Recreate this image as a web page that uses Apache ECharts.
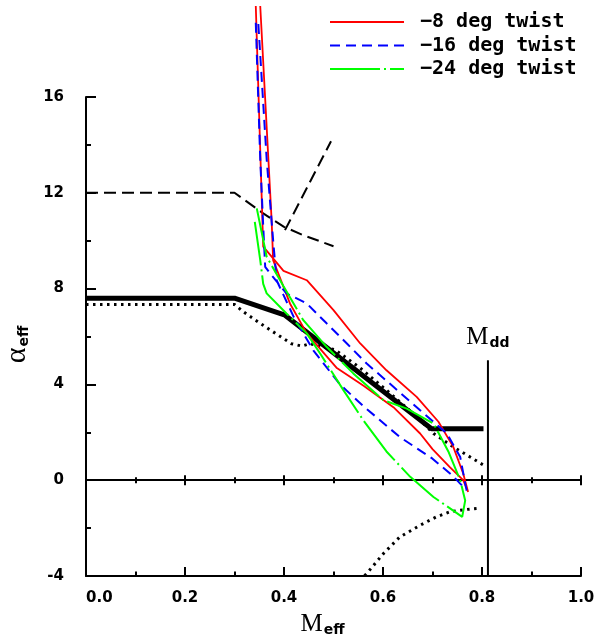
<!DOCTYPE html>
<html><head><meta charset="utf-8">
<script src="https://cdn.jsdelivr.net/npm/echarts@6/dist/echarts.min.js"></script>
<style>html,body{margin:0;padding:0;background:#fff}#c{width:606px;height:641px}</style>
</head><body><div id="c"></div>
<script>
// ---- data (x = M_eff, y = alpha_eff) ----
const seriesNames = ['\u22128 deg twist', '\u221216 deg twist', '\u221224 deg twist'];

const twist8 = [
  [0.343,19.8],[0.358,9.75],[0.378,9.26],[0.399,8.74],[0.446,8.35],[0.50,7.10],[0.554,5.71],
  [0.607,4.59],[0.668,3.48],[0.712,2.44],[0.742,1.39],[0.762,0.28],[0.772,-0.49],
  [0.762,0.0],[0.735,0.55],[0.70,1.3],[0.675,1.95],[0.621,3.05],[0.56,3.95],[0.506,4.7],
  [0.446,6.13],[0.412,7.38],[0.378,9.19],[0.375,10.86],[0.352,19.8]
];
const twist16 = [
  [0.343,19.1],[0.352,13.4],[0.358,10.6],[0.362,8.91],[0.372,8.63],[0.405,7.80],[0.446,7.38],
  [0.486,6.55],[0.527,5.71],[0.567,4.87],[0.621,3.90],[0.675,2.92],[0.729,1.95],[0.756,0.97],
  [0.766,-0.14],[0.769,-0.42],
  [0.74,0.2],[0.70,0.9],[0.634,1.8],[0.56,3.1],[0.513,4.0],[0.46,5.4],[0.42,6.8],[0.385,8.35],
  [0.378,10.03],[0.365,13.4],[0.348,19.1]
];
const twist24 = [
  [0.345,11.35],[0.365,9.33],[0.399,8.1],[0.439,6.68],[0.486,5.57],[0.54,4.46],[0.601,3.34],
  [0.648,2.99],[0.702,2.37],[0.732,1.2],[0.756,0.0],[0.766,-0.85],[0.760,-1.53],
  [0.702,-0.70],[0.655,0.14],[0.607,1.2],[0.56,2.51],[0.52,3.76],[0.473,5.29],[0.446,6.13],
  [0.405,6.96],[0.365,7.80],[0.358,8.2],[0.352,9.19],[0.341,10.79]
];
const thickSolid = [[0,7.6],[0.30,7.6],[0.402,6.89],[0.698,2.15],[0.803,2.15]];
const dottedUpper = [
  [0,7.34],[0.30,7.34],[0.318,7.03],[0.352,6.55],[0.385,6.10],[0.415,5.70],[0.436,5.60],
  [0.452,5.70],[0.503,5.45],[0.553,4.7],[0.607,3.76],[0.668,2.65],[0.702,1.95],[0.742,1.39],
  [0.776,0.97],[0.803,0.63]
];
const dottedLower = [
  [0.789,-1.18],[0.769,-1.22],[0.735,-1.32],[0.708,-1.53],[0.675,-1.88],[0.634,-2.37],
  [0.601,-3.06],[0.567,-3.9],[0.562,-4.0]
];
const dashedMain = [[0,12],[0.30,12],[0.325,11.63],[0.358,11.14],[0.40,10.58],[0.439,10.23],[0.50,9.77]];
const dashedBranch = [[0.402,10.44],[0.495,14.15]];
const mddX = 0.812;
const mddRange = [-4, 5];

const xMin = 0, xMax = 1, xStep = 0.2;
const yMin = -4, yMax = 16, yStep = 4;

// ---- chart ----
const chart = echarts.init(document.getElementById('c'), null, {renderer: 'canvas'});
const black = '#000';
const labelFont = {fontFamily: 'DejaVu Sans', fontWeight: 'bold', fontSize: 15, color: black};
const xBase = {type: 'value', min: xMin, max: xMax, interval: xStep, splitLine: {show: false}};

function ln(name, data, color, width, type, z) {
  return {type: 'line', name: name, data: data, symbol: 'none', clip: false, silent: true,
    itemStyle: {color: color, opacity: 0},
    lineStyle: {color: color, width: width, type: type}, z: z || 2, xAxisIndex: 0, yAxisIndex: 0};
}

const option = {
  animation: false,
  backgroundColor: '#fff',
  grid: {left: 86, right: 25, top: 97, bottom: 65, containLabel: false, outerBoundsMode: 'none'},
  legend: {
    data: seriesNames, orient: 'vertical', left: 329, top: 12, padding: 0,
    itemWidth: 74, itemHeight: 14, itemGap: 3.5,
    itemStyle: {opacity: 0},
    textStyle: {fontFamily: 'DejaVu Sans Mono', fontWeight: 'bold', fontSize: 20, color: black,
      lineHeight: 20, padding: [0, 0, 0, 11]},
    selectedMode: false
  },
  xAxis: [
    Object.assign({}, xBase, {
      position: 'bottom',
      axisLine: {onZero: false, lineStyle: {color: black, width: 2}},
      axisTick: {inside: true, length: 9, lineStyle: {color: black, width: 2}},
      minorTick: {show: true, splitNumber: 2, length: 4.5, lineStyle: {color: black, width: 2}},
      axisLabel: Object.assign({margin: 15, alignMinLabel: 'left', formatter: v => v.toFixed(1)}, labelFont),
      name: '{m|M}{s|eff}', nameLocation: 'middle', nameGap: 35,
      nameTextStyle: {rich: {
        m: {fontFamily: 'Liberation Serif', fontSize: 25, color: black},
        s: {fontFamily: 'DejaVu Sans', fontWeight: 'bold', fontSize: 14, color: black, padding: [12, 22, 0, 1]}
      }}
    }),
    Object.assign({}, xBase, {
      position: 'bottom',
      axisLine: {onZero: true, onZeroAxisIndex: 0, lineStyle: {color: black, width: 2}},
      axisTick: {inside: true, length: 5, lineStyle: {color: black, width: 2}},
      minorTick: {show: true, splitNumber: 2, length: 3, lineStyle: {color: black, width: 2}},
      axisLabel: {show: false}
    }),
    Object.assign({}, xBase, {
      position: 'bottom',
      axisLine: {onZero: true, onZeroAxisIndex: 0, lineStyle: {color: black, width: 2}},
      axisTick: {inside: false, length: 5, lineStyle: {color: black, width: 2}},
      minorTick: {show: true, splitNumber: 2, length: 3, lineStyle: {color: black, width: 2}},
      axisLabel: {show: false}
    })
  ],
  yAxis: [{
    type: 'value', min: yMin, max: yMax, interval: yStep, splitLine: {show: false},
    axisLine: {onZero: false, lineStyle: {color: black, width: 2}},
    axisTick: {inside: true, length: 10, lineStyle: {color: black, width: 2}},
    minorTick: {show: true, splitNumber: 2, length: 5, lineStyle: {color: black, width: 2}},
    axisLabel: Object.assign({margin: 22}, labelFont),
    name: '{a|\u03b1}{s|eff}', nameLocation: 'middle', nameGap: 42,
    nameTextStyle: {rich: {
      a: {fontFamily: 'Liberation Serif', fontSize: 30, color: black},
      s: {fontFamily: 'DejaVu Sans', fontWeight: 'bold', fontSize: 14, color: black, padding: [14, 16, 0, 1]}
    }}
  }],
  series: [
    ln('thick', thickSolid, black, 5, 'solid', 3),
    ln('dotU', dottedUpper, black, 3, [2.5, 4.5], 3),
    ln('dotL', dottedLower, black, 3, [2.5, 4.5], 3),
    ln('dashM', dashedMain, black, 2, [12, 6], 3),
    ln('dashB', dashedBranch, black, 2, [12, 6], 3),
    ln(seriesNames[0], twist8, '#ff0000', 1.8, 'solid', 4),
    ln(seriesNames[1], twist16, '#0000ff', 2, [10, 6], 4),
    ln(seriesNames[2], twist24, '#00ff00', 2, [50, 4, 2, 4], 4),
    {
      type: 'line', name: 'Mdd', silent: true, clip: false, symbol: 'none',
      lineStyle: {color: black, width: 2}, z: 3,
      data: [
        [mddX, mddRange[0]],
        {value: [mddX, mddRange[1]], symbol: 'circle', symbolSize: 1, itemStyle: {color: black},
          label: {show: true, position: 'top', distance: 10, formatter: '{m|M}{s|dd}',
            rich: {
              m: {fontFamily: 'Liberation Serif', fontSize: 25, color: black},
              s: {fontFamily: 'DejaVu Sans', fontWeight: 'bold', fontSize: 14, color: black, padding: [12, 0, 0, 1]}
            }}}
      ]
    }
  ]
};
chart.setOption(option);
</script>
</body></html>
